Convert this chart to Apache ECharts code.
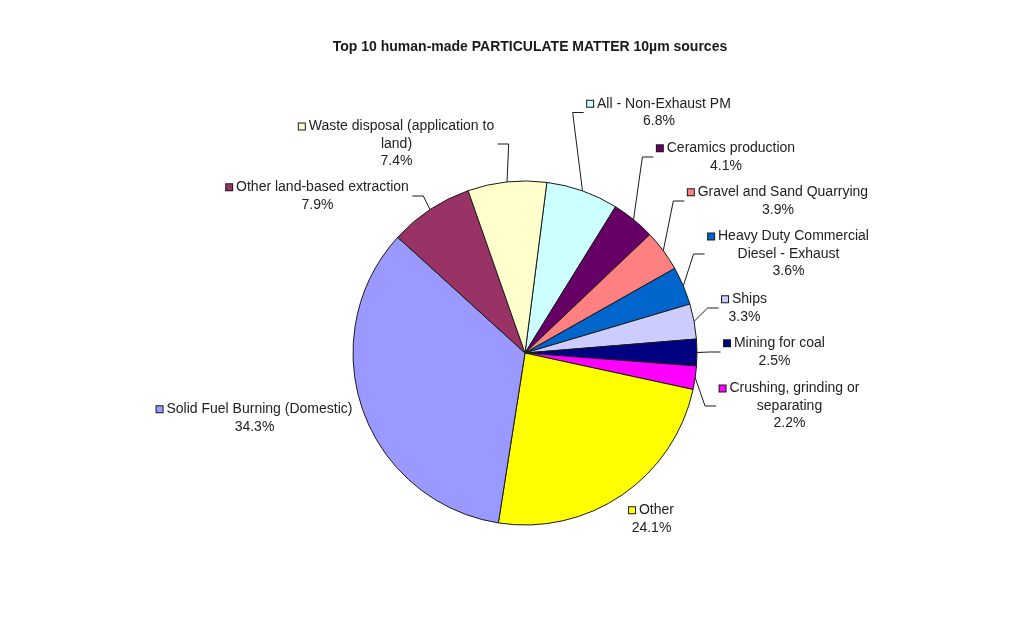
<!DOCTYPE html>
<html>
<head>
<meta charset="utf-8">
<script src="https://cdn.jsdelivr.net/npm/echarts@6/dist/echarts.min.js"></script>
<style>
  html, body { margin: 0; padding: 0; background: #ffffff; }
  #chart { width: 1025px; height: 634px; }
</style>
</head>
<body>
<div id="chart"></div>
<script>
// Sources, clockwise from the top of the pie
const categories = [
  'All - Non-Exhaust PM',
  'Ceramics production',
  'Gravel and Sand Quarrying',
  'Heavy Duty Commercial Diesel - Exhaust',
  'Ships',
  'Mining for coal',
  'Crushing, grinding or separating',
  'Other',
  'Solid Fuel Burning (Domestic)',
  'Other land-based extraction',
  'Waste disposal (application to land)'
];
// Share of PM10 emissions, %
const shares = [6.8, 4.1, 3.9, 3.6, 3.3, 2.5, 2.2, 24.1, 34.3, 7.9, 7.4];

const colors = [
  '#ccffff', '#660066', '#ff8080', '#0066cc', '#ccccff', '#000080',
  '#ff00ff', '#ffff00', '#9999ff', '#993366', '#ffffcc'
];

// How each name is broken over lines in its label
const nameLines = [
  ['All - Non-Exhaust PM'],
  ['Ceramics production'],
  ['Gravel and Sand Quarrying'],
  ['Heavy Duty Commercial', 'Diesel - Exhaust'],
  ['Ships'],
  ['Mining for coal'],
  ['Crushing, grinding or', 'separating'],
  ['Other'],
  ['Solid Fuel Burning (Domestic)'],
  ['Other land-based extraction'],
  ['Waste disposal (application to', 'land)']
];

// Label block centres in px; 'L' = leader line enters from the left, 'R' = from the right, null = no line
const labelPlace = [
  [659, 112.5, 'L'],
  [726, 157, 'L'],
  [778, 201, 'L'],
  [788.5, 254, 'L'],
  [744.5, 308, 'L'],
  [774.5, 352, 'L'],
  [789.5, 406, 'L'],
  [651.5, 519, null],
  [254.5, 418, null],
  [317.5, 196, 'R'],
  [396.5, 144, 'R']
];

const FONT = '"Liberation Sans", Arial, Helvetica, sans-serif';
const TEXT = '#222222';

const chart = echarts.init(document.getElementById('chart'), null, { renderer: 'canvas' });

const data = categories.map((name, i) => ({
  name: name,
  value: shares[i],
  itemStyle: { color: colors[i] },
  label: {
    rich: {
      sq: {
        width: 6, height: 6,
        backgroundColor: colors[i],
        borderColor: '#1a1a1a', borderWidth: 1
      },
      t: { fontSize: 14, fontFamily: FONT, color: TEXT, lineHeight: 17.5 }
    }
  },
  labelLine: { show: labelPlace[i][2] !== null }
}));

chart.setOption({
  animation: false,
  backgroundColor: '#ffffff',
  title: {
    text: 'Top 10 human-made PARTICULATE MATTER 10\u00b5m sources',
    left: 525,
    top: 35,
    textAlign: 'center',
    textStyle: { fontFamily: FONT, fontSize: 14, fontWeight: 'bold', color: '#1a1a1a' }
  },
  series: [{
    type: 'pie',
    center: [525, 353],
    radius: 172,
    startAngle: 82.7,
    clockwise: true,
    avoidLabelOverlap: false,
    emphasis: { disabled: true },
    itemStyle: { borderColor: '#1a1a1a', borderWidth: 1 },
    data: data,
    label: {
      show: true,
      position: 'outside',
      alignTo: 'none',
      fontSize: 14,
      fontFamily: FONT,
      color: TEXT,
      lineHeight: 17.5,
      align: 'center',
      formatter: function (p) {
        const lines = nameLines[p.dataIndex];
        const out = ['{sq|} {t|' + lines[0] + '}'];
        for (let k = 1; k < lines.length; k++) out.push('{t|' + lines[k] + '}');
        out.push('{t|' + p.value.toFixed(1) + '%}');
        return out.join('\n');
      }
    },
    labelLine: {
      length: 12,
      length2: 10,
      lineStyle: { color: '#1a1a1a', width: 1 }
    },
    labelLayout: function (p) {
      const place = labelPlace[p.dataIndex];
      const cx = place[0], cy = place[1], side = place[2];
      const res = { x: cx, y: cy, align: 'center', verticalAlign: 'middle' };
      if (side && p.labelLinePoints) {
        const w = p.labelRect.width;
        const edge = p.labelLinePoints[0];
        const endX = side === 'L' ? cx - w / 2 - 3 : cx + w / 2 + 3;
        const bendX = side === 'L' ? endX - 11 : endX + 11;
        res.labelLinePoints = [[edge[0], edge[1]], [bendX, cy], [endX, cy]];
      }
      return res;
    }
  }]
});
</script>
</body>
</html>
